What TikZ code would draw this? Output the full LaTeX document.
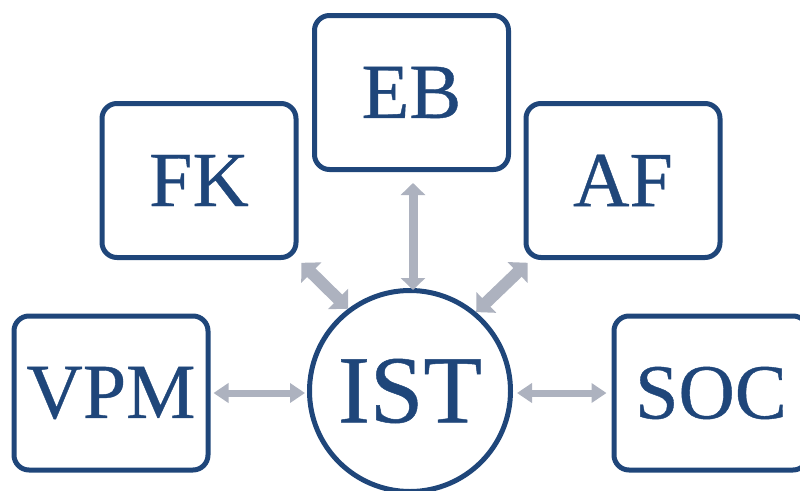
\documentclass[tikz,border=0pt]{standalone}
\usepackage{fontspec}
\setmainfont{Liberation Serif}[FakeBold=0.5]
\usepackage{tikz}
\usetikzlibrary{positioning}
\usetikzlibrary{arrows.meta}
\definecolor{istblue}{RGB}{31,70,122}
\definecolor{istgray}{RGB}{173,178,191}
\tikzset{
	unit/.style={draw=istblue, line width=5pt, rounded corners=15pt, text=istblue,
		minimum width=194pt, minimum height=154pt, font=\fontsize{78}{78}\selectfont},
	core/.style={draw=istblue, line width=5pt, circle, text=istblue,
		minimum size=201pt, inner sep=0pt, font=\fontsize{96}{96}\selectfont},
	link/.style={istgray, line width=9pt, {Triangle[width=24pt,length=12pt]}-{Triangle[width=24pt,length=12pt]}},
	linkd/.style={istgray, line width=12pt, {Triangle[width=28pt,length=14pt]}-{Triangle[width=28pt,length=14pt]}},
	linkh/.style={istgray, line width=7pt, {Triangle[width=19pt,length=15pt]}-{Triangle[width=19pt,length=15pt]}}
}

\begin{document}
\begin{tikzpicture}[x=1pt,y=-1pt]
	\useasboundingbox (0,0) rectangle (800,490);
	% Centre
	\node [core] at (410,391) (IST) {IST};
	
	% Surrounding units
	\node [unit] at (411.5,92.5) (EB) {EB};
	\node [unit] at (199,180.5) (FK) {FK};
	\node [unit] at (623,180.5) (AF) {AF};
	\node [unit] at (111,393) (VPM) {VPM};
	\node [unit] at (711,393) (SOC) {SOC};
	
	% Connections
	\draw [link, shorten <=11pt, shorten >=-2pt] ([xshift=1.5pt]EB.south) -- ([xshift=3pt]IST.north);
	\draw [linkd, shorten <=4pt] (FK.south east) -- (IST.127);
	\draw [linkd, shorten <=4pt] ([xshift=7pt]AF.south west) -- (IST.50);
	\draw [linkh, shorten <=3pt, shorten >=2pt] (VPM.east) -- (VPM.east -| IST.west);
	\draw [linkh, shorten <=4pt, shorten >=5pt] (SOC.west -| IST.east) -- (SOC.west);
\end{tikzpicture}
\end{document}
